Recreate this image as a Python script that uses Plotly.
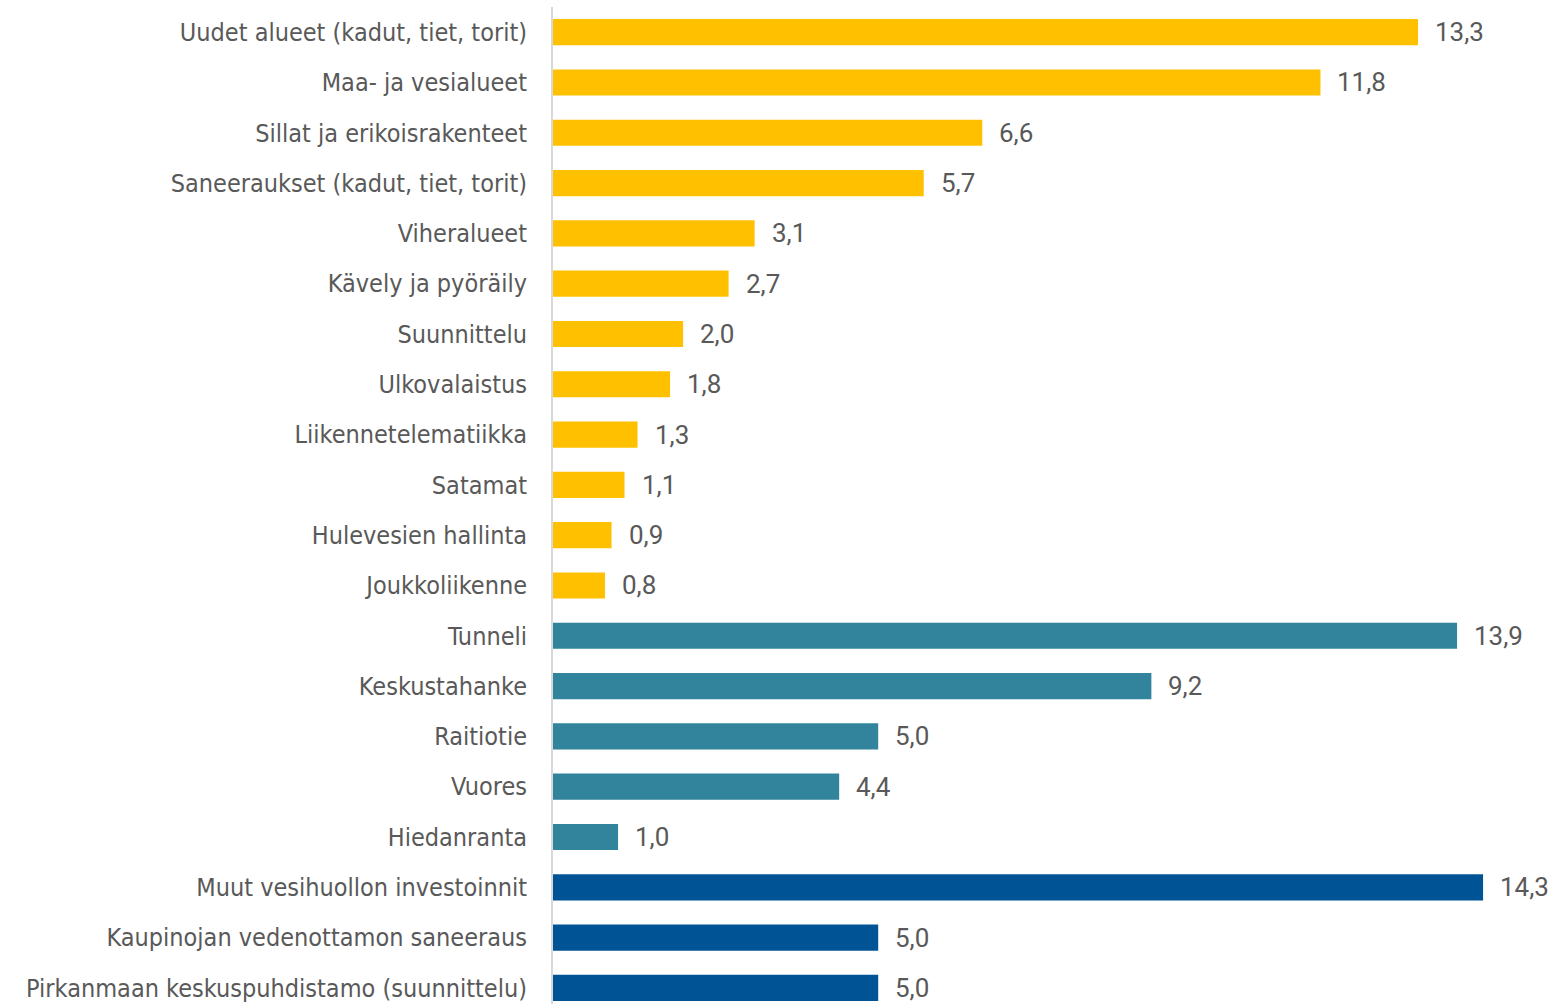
import plotly.graph_objects as go

categories = [
    "Uudet alueet (kadut, tiet, torit)",
    "Maa- ja vesialueet",
    "Sillat ja erikoisrakenteet",
    "Saneeraukset (kadut, tiet, torit)",
    "Viheralueet",
    "Kävely ja pyöräily",
    "Suunnittelu",
    "Ulkovalaistus",
    "Liikennetelematiikka",
    "Satamat",
    "Hulevesien hallinta",
    "Joukkoliikenne",
    "Tunneli",
    "Keskustahanke",
    "Raitiotie",
    "Vuores",
    "Hiedanranta",
    "Muut vesihuollon investoinnit",
    "Kaupinojan vedenottamon saneeraus",
    "Pirkanmaan keskuspuhdistamo (suunnittelu)",
]
values = [13.3, 11.8, 6.6, 5.7, 3.1, 2.7, 2.0, 1.8, 1.3, 1.1, 0.9, 0.8,
          13.9, 9.2, 5.0, 4.4, 1.0,
          14.3, 5.0, 5.0]
groups = ["a"] * 12 + ["b"] * 5 + ["c"] * 3
group_colors = {"a": "#FFC000", "b": "#31849B", "c": "#005496"}

colors = [group_colors[g] for g in groups]
labels = [f"{v:.1f}".replace(".", ",") for v in values]

fig = go.Figure()
fig.add_trace(go.Bar(
    y=categories, x=values, orientation="h",
    marker=dict(color=colors, line=dict(width=0)),
    hoverinfo="skip",
))

for c, v, t in zip(categories, values, labels):
    fig.add_annotation(x=v, y=c, text=t, showarrow=False, xanchor="left",
                       xshift=15, font=dict(family="Roboto", size=26, color="#595959"))

n = len(categories)
fig.update_layout(
    width=1559, height=1004,
    margin=dict(l=553, r=17, t=7, b=0, pad=0),
    paper_bgcolor="white", plot_bgcolor="white",
    bargap=0.48, showlegend=False,
    separators=", ",
    xaxis=dict(range=[0, 15.206], showgrid=False, showticklabels=False,
               zeroline=False, showline=False, ticks=""),
    yaxis=dict(type="category", categoryorder="array", categoryarray=categories,
               range=[n - 1 + 0.32, -0.5], showgrid=False, zeroline=False,
               showline=True, linecolor="#D9D9D9", linewidth=2,
               ticks="", ticklabelstandoff=19, automargin=False,
               tickfont=dict(family="DejaVu Sans Condensed", size=25, color="#595959")),
)

fig.write_html("out.html", config={"displayModeBar": False},
               post_script="document.body.style.margin='0';document.body.style.overflow='hidden';")
